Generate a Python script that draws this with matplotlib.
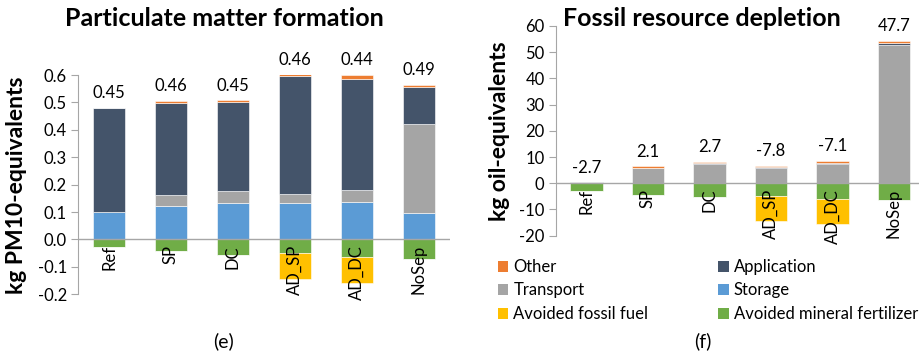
import matplotlib
matplotlib.use("Agg")
import matplotlib.pyplot as plt
from matplotlib.patches import Patch

plt.rcParams['font.family'] = ['Lato', 'DejaVu Sans']

categories = ["Ref", "SP", "DC", "AD_SP", "AD_DC", "NoSep"]

# Particulate matter formation, kg PM10-equivalents
pm_storage = [0.099, 0.123, 0.133, 0.133, 0.135, 0.097]
pm_transport = [0.0, 0.038, 0.043, 0.034, 0.045, 0.324]
pm_application = [0.380, 0.338, 0.326, 0.430, 0.406, 0.136]
pm_other = [0.0, 0.005, 0.005, 0.005, 0.015, 0.006]
pm_fertilizer = [-0.029, -0.043, -0.056, -0.050, -0.064, -0.072]
pm_fossil = [0.0, 0.0, 0.0, -0.096, -0.094, 0.0]

# Fossil resource depletion, kg oil-equivalents
fd_storage = [0.1, 0.0, 0.0, 0.0, 0.0, 0.0]
fd_transport = [0.0, 5.7, 7.4, 5.7, 7.2, 52.9]
fd_application = [0.2, 0.3, 0.2, 0.4, 0.4, 0.5]
fd_other = [0.0, 0.4, 0.4, 0.5, 0.8, 0.8]
fd_fertilizer = [-3.0, -4.3, -5.3, -4.8, -6.0, -6.5]
fd_fossil = [0.0, 0.0, 0.0, -9.6, -9.5, 0.0]

colors = {
    "Other": "#ED7D31",
    "Application": "#44546A",
    "Transport": "#A5A5A5",
    "Storage": "#5B9BD5",
    "Avoided fossil fuel": "#FFC000",
    "Avoided mineral fertilizer": "#70AD47",
}

FS = 12
AXCOL = "#A6A6A6"
W = 0.53

fig = plt.figure(figsize=(9.19, 3.55), dpi=100)


def draw_panel(ax, storage, transport, application, other, fert, fossil,
               ylim, yticks, tickfmt, labfmt, xmax):
    x = list(range(len(categories)))
    pos = [("Storage", storage), ("Transport", transport),
           ("Application", application), ("Other", other)]
    bottom = [0.0] * len(x)
    for name, vals in pos:
        ax.bar(x, vals, W, bottom=bottom, color=colors[name],
               edgecolor="white", linewidth=0.4, zorder=2)
        bottom = [b + v for b, v in zip(bottom, vals)]
    top = bottom
    neg = [("Avoided mineral fertilizer", fert), ("Avoided fossil fuel", fossil)]
    nb = [0.0] * len(x)
    for name, vals in neg:
        ax.bar(x, vals, W, bottom=nb, color=colors[name],
               edgecolor="white", linewidth=0.4, zorder=2)
        nb = [b + v for b, v in zip(nb, vals)]
    net = [t + n for t, n in zip(top, nb)]
    for i in x:
        ax.annotate(labfmt.format(net[i]), (i, top[i]), xytext=(0, 5),
                    textcoords="offset points", ha="center", va="bottom",
                    fontsize=FS, annotation_clip=False)
        ax.annotate(categories[i], (i, 0), xytext=(0, -4),
                    textcoords="offset points", ha="center", va="top",
                    rotation=90, fontsize=FS, zorder=3)
    ax.axhline(0, color=AXCOL, lw=1.0, zorder=3)
    ax.set_xlim(-0.5, xmax)
    ax.set_ylim(*ylim)
    ax.set_yticks(yticks)
    ax.set_yticklabels([tickfmt.format(v) for v in yticks], fontsize=FS)
    ax.set_xticks([])
    for s in ("top", "right", "bottom"):
        ax.spines[s].set_visible(False)
    ax.spines["left"].set_color(AXCOL)
    ax.tick_params(axis="y", direction="out", length=5, color=AXCOL, pad=3)


ax1 = fig.add_axes([78 / 919, 1 - 294.3 / 355, 372 / 919, 219.3 / 355])
draw_panel(ax1, pm_storage, pm_transport, pm_application, pm_other,
           pm_fertilizer, pm_fossil, (-0.2, 0.6),
           [-0.2, -0.1, 0.0, 0.1, 0.2, 0.3, 0.4, 0.5, 0.6],
           "{:.1f}", "{:.2f}", 5.5)

ax2 = fig.add_axes([555.7 / 919, 1 - 235.7 / 355, 363.3 / 919, 209.7 / 355])
draw_panel(ax2, fd_storage, fd_transport, fd_application, fd_other,
           fd_fertilizer, fd_fossil, (-20, 60),
           [-20, -10, 0, 10, 20, 30, 40, 50, 60],
           "{:.0f}", "{:.1f}", -0.5 + 363.3 / 61.5)

fig.text(224 / 919, 1 - 19 / 355, "Particulate matter formation",
         ha="center", va="center", fontsize=18, fontweight="bold")
fig.text(702 / 919, 1 - 19 / 355, "Fossil resource depletion",
         ha="center", va="center", fontsize=18, fontweight="bold")

fig.text(17 / 919, 1 - 185 / 355, "kg PM10-equivalents", rotation=90,
         ha="center", va="center", fontsize=16.5, fontweight="bold")
fig.text(499 / 919, 1 - 131 / 355, "kg oil-equivalents", rotation=90,
         ha="center", va="center", fontsize=16.5, fontweight="bold")

fig.text(224 / 919, 1 - 341 / 355, "(e)", ha="center", va="center", fontsize=14)
fig.text(703 / 919, 1 - 341 / 355, "(f)", ha="center", va="center", fontsize=14)

legend_order = ["Other", "Transport", "Avoided fossil fuel",
                "Application", "Storage", "Avoided mineral fertilizer"]
handles = [Patch(facecolor=colors[n], edgecolor="none", label=n)
           for n in legend_order]
fig.legend(handles=handles, ncol=2, loc="upper left",
           bbox_to_anchor=(498 / 919, 1 - 259 / 355), frameon=False,
           fontsize=FS, handlelength=0.62, handleheight=0.62,
           handletextpad=0.3, columnspacing=4.2, labelspacing=0.45,
           borderpad=0, borderaxespad=0)

fig.savefig("out.png", dpi=100)
